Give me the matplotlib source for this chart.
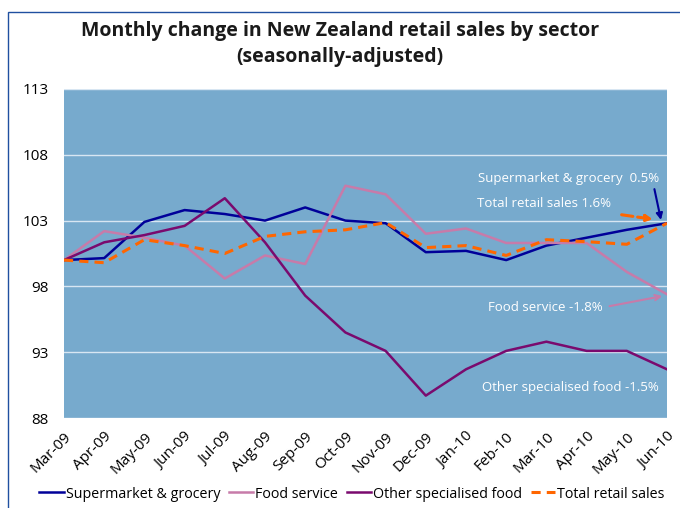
import matplotlib.pyplot as plt
from matplotlib.patches import Rectangle

''' data '''
months = ['Mar-09', 'Apr-09', 'May-09', 'Jun-09', 'Jul-09', 'Aug-09', 'Sep-09', 'Oct-09',
          'Nov-09', 'Dec-09', 'Jan-10', 'Feb-10', 'Mar-10', 'Apr-10', 'May-10', 'Jun-10']
supermarket = [100.0, 100.15, 102.9, 103.8, 103.5, 103.0, 104.0, 103.0,
               102.8, 100.6, 100.7, 100.0, 101.1, 101.7, 102.3, 102.8]
food_service = [100.0, 102.2, 101.7, 101.1, 98.6, 100.35, 99.7, 105.65,
                105.0, 102.0, 102.4, 101.3, 101.3, 101.3, 99.1, 97.4]
other_food = [100.0, 101.35, 101.9, 102.6, 104.7, 101.35, 97.3, 94.5,
              93.1, 89.7, 91.7, 93.1, 93.8, 93.1, 93.1, 91.7]
total_retail = [100.0, 99.8, 101.55, 101.1, 100.5, 101.8, 102.15, 102.3,
                102.85, 100.95, 101.1, 100.35, 101.55, 101.4, 101.2, 102.8]
yticks = [88, 93, 98, 103, 108, 113]

''' colours '''
c_bg = '#77AACD'
c_super = '#000099'
c_food = '#C77BA9'
c_other = '#7A0A6E'
c_total = '#FF6600'

plt.rcParams['font.family'] = ['Open Sans', 'DejaVu Sans']

fig = plt.figure(figsize=(6.8, 5.08), dpi=100)
fig.patches.append(Rectangle((8/680, -0.1), 1.0, 1 - 12/508 + 0.1, transform=fig.transFigure,
                             fill=False, edgecolor='#2050A0', linewidth=1.0))
ax = fig.add_axes([64/680, 1 - 418/508, 603/680, 329/508])
ax.set_facecolor(c_bg)

x = range(len(months))
ax.plot(x, supermarket, color=c_super, lw=1.8, label='Supermarket & grocery')
ax.plot(x, food_service, color=c_food, lw=1.8, label='Food service')
ax.plot(x, other_food, color=c_other, lw=1.8, label='Other specialised food')
ax.plot(x, total_retail, color=c_total, lw=2.2, ls=(0, (3, 2)), label='Total retail sales')

ax.set_xlim(0, len(months) - 1)
ax.set_ylim(88, 113)
ax.set_yticks(yticks)
ax.set_xticks(list(x))
ax.set_xticklabels(months, rotation=45, ha='right', rotation_mode='anchor')
ax.tick_params(axis='both', length=0, labelsize=11)
ax.tick_params(axis='y', pad=11)
ax.tick_params(axis='x', pad=8)
ax.grid(axis='y', color='#D8E6F2', lw=1.0)
ax.set_axisbelow(True)
for s in ax.spines.values():
    s.set_visible(False)

fig.text(0.5, 1 - 44/508, 'Monthly change in New Zealand retail sales by sector\n(seasonally-adjusted)',
         ha='center', va='center', fontsize=14, fontweight='bold', linespacing=1.45, color='#1A1A1A')

''' annotations '''
ax.annotate('Supermarket & grocery  0.5%', xy=(14.85, 103.05), xytext=(14.8, 106.2),
            color='white', fontsize=9.5, ha='right', va='center',
            arrowprops=dict(arrowstyle='-|>', color=c_super, lw=1.5,
                            relpos=(0.97, 0.0), shrinkA=1, shrinkB=0))
ax.annotate('Total retail sales 1.6%', xy=(14.65, 103.1), xytext=(13.6, 104.3),
            color='white', fontsize=9.5, ha='right', va='center',
            arrowprops=dict(arrowstyle='-|>', color=c_total, lw=2.2, ls='--',
                            shrinkA=10, shrinkB=0))
ax.annotate('Food service -1.8%', xy=(14.95, 97.3), xytext=(13.4, 96.4),
            color='white', fontsize=9.5, ha='right', va='center',
            arrowprops=dict(arrowstyle='->', color=c_food, lw=1.5,
                            relpos=(1.0, 0.5), shrinkA=3))
ax.text(14.8, 90.35, 'Other specialised food -1.5%', color='white', fontsize=9.5,
        ha='right', va='center')

fig.legend(loc='center', bbox_to_anchor=(352/680, 1 - 494/508), ncol=4, frameon=False,
           fontsize=10.3, handlelength=1.7, handletextpad=0.15, columnspacing=0.6)

fig.savefig('out.png', dpi=100)
